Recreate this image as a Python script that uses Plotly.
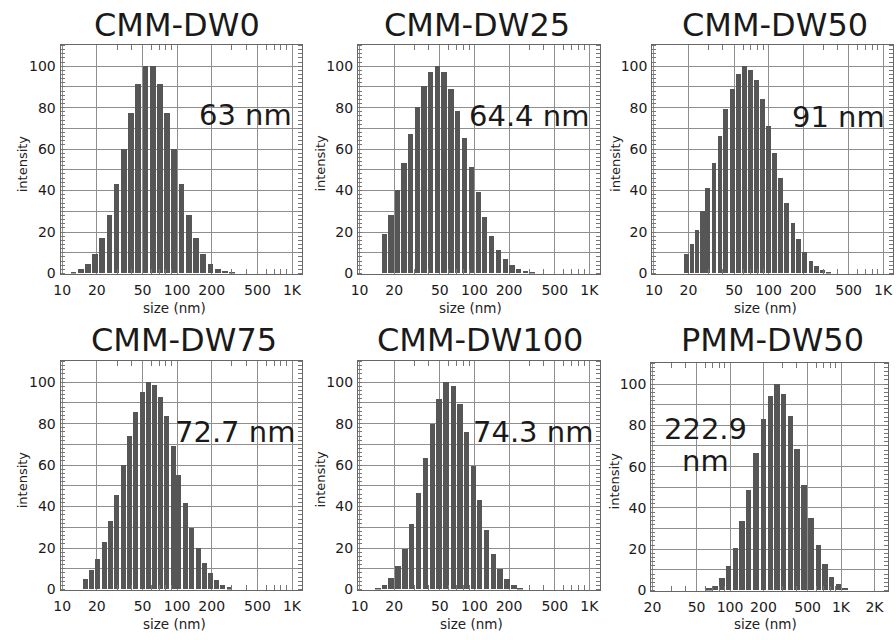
import numpy as np
import plotly.graph_objects as go

# ---------------- data ----------------
titles = ["CMM-DW0", "CMM-DW25", "CMM-DW50", "CMM-DW75", "CMM-DW100", "PMM-DW50"]
mean_labels = ["63 nm", "64.4 nm", "91 nm", "72.7 nm", "74.3 nm", "222.9"]
mean_unit_extra = "nm"   # second line of the PMM-DW50 label

dw0_size = [12.4, 14.4, 16.6, 19.1, 22.0, 25.5, 29.4, 34.0, 39.3, 45.4, 52.5, 60.7,
            70.1, 81.0, 93.6, 108.2, 125.1, 144.5, 167.1, 193.1, 223.2, 257.9, 298.1]
dw0_int = [0.5, 2, 4.5, 9, 17, 28, 43, 60, 77, 91, 100, 100,
           91, 77, 60, 43, 28, 17, 9, 4.5, 2, 1, 0.4]

dw25_size = [16.4, 18.7, 21.3, 24.3, 27.7, 31.6, 36.3, 41.4, 47.2, 54.2, 62.3, 71.5,
             82.1, 93.6, 107.5, 122.6, 140.8, 160.6, 185.6, 211.7, 241.5, 277.3, 318.4]
dw25_int = [19, 28, 40, 53, 67, 80, 90, 97, 100, 97, 89, 78,
            65, 51, 39, 27, 18, 11, 7, 4, 2, 1, 0.3]

dw50_size = [19.4, 21.6, 23.8, 26.5, 29.6, 33.6, 37.8, 42.5, 48.5, 54.6, 61.5, 69.6,
             78.4, 88.8, 100.7, 113.3, 127.6, 144.5, 163.8, 184.4, 207.6, 235.2, 264.8,
             298.1, 335.6]
dw50_int = [9, 14, 21, 30, 41, 53, 66, 79, 89, 96, 100, 98,
            93, 84, 71, 58, 46, 34, 24, 16.5, 10, 6, 3.5, 1.6, 0.6]

dw75_size = [15.8, 17.8, 20.1, 22.9, 26.0, 29.4, 33.6, 38.3, 43.4, 49.1, 55.7, 62.7,
             71.0, 80.5, 91.2, 102.7, 117.1, 132.7, 151.4, 171.6, 194.4, 218.8, 248.0, 281.0]
dw75_int = [5, 9, 14.5, 22.6, 32.8, 45.6, 59.7, 73.6, 85.4, 95, 100, 98.5,
            92.6, 83.5, 69, 55, 41.5, 29.7, 20, 12.7, 8, 4.4, 2.2, 0.8]

dw100_size = [14.4, 16.5, 18.8, 21.5, 24.8, 28.3, 32.5, 37.3, 42.8, 49.1, 56.4, 65.2,
              74.4, 85.4, 97.4, 110.4, 126.7, 145.5, 167.1, 190.5, 220.3, 249.5]
dw100_int = [0.3, 2, 5.5, 11, 19.3, 31.3, 46.4, 63.3, 79.4, 91.8, 100, 97.8,
             89.4, 75.6, 59.3, 43, 28.5, 17, 9.8, 4.7, 1.9, 0.5]

pmm50_size = [65.0, 74.1, 85.1, 97.7, 112.0, 128.6, 147.6, 171.8, 200.0, 231.1, 265.3,
              304.6, 351.9, 403.9, 466.7, 539.1, 628.0, 721.2, 827.9, 950.6, 1089.0]
pmm50_int = [0.8, 2, 5.7, 11.5, 20.5, 33.3, 48.3, 66.5, 83, 94, 100,
             95, 84.5, 68.4, 51, 34.8, 22, 12.6, 6.3, 2.8, 1]

x_ticks_a = [10, 20, 50, 100, 200, 500, 1000]
x_ticktext_a = ["10", "20", "50", "100", "200", "500", "1K"]
x_ticks_b = [20, 50, 100, 200, 500, 1000, 2000]
x_ticktext_b = ["20", "50", "100", "200", "500", "1K", "2K"]
x_minor = [30, 40, 60, 70, 80, 90, 300, 400, 600, 700, 800, 900]
y_ticks = [0, 10, 20, 30, 40, 50, 60, 70, 80, 90, 100, 110]
y_ticktext = ["0", "", "20", "", "40", "", "60", "", "80", "", "100", ""]

sizes = [dw0_size, dw25_size, dw50_size, dw75_size, dw100_size, pmm50_size]
ints = [dw0_int, dw25_int, dw50_int, dw75_int, dw100_int, pmm50_int]

# ---------------- layout geometry (pixels) ----------------
W, H = 896, 640
FONT = "DejaVu Sans"
frames = [  # left, right, top, bottom
    (53, 297, 46, 277),
    (353, 597, 46, 277),
    (650, 893, 46, 277),
    (53, 297, 366, 597),
    (353, 597, 366, 597),
    (649, 888, 368, 598),
]
xranges = [[0.985, 3.09], [0.985, 3.09], [0.985, 3.086],
           [0.985, 3.09], [0.985, 3.09], [1.29, 3.424]]
title_pos = [(171, 25), (473, 25), (774, 25), (178, 344), (476, 344), (771, 344)]
mean_pos = [(240, 116), (526, 117), (838, 118), (229, 437), (530, 437), (704, 434)]
extra_pos = (704, 467)
ylab_x = [15, 315, 613, 15, 315, 612]
xlab_pos = [(168, 312), (467, 312), (764, 312), (168, 632), (468, 632), (764, 632)]


def px(x):
    return x / W


def py(y):
    return 1 - y / H


fig = go.Figure()
layout = dict(
    width=W, height=H, margin=dict(l=0, r=0, t=0, b=0),
    paper_bgcolor="white", plot_bgcolor="white", showlegend=False,
    font=dict(family=FONT, color="#222"), bargap=0,
)
annotations = []
big_font = dict(family=FONT, size=29, color="#1a1a1a")

for i in range(6):
    n = i + 1
    xa = "x" if n == 1 else f"x{n}"
    ya = "y" if n == 1 else f"y{n}"
    lx = np.log10(np.array(sizes[i], dtype=float))
    bw = float(np.median(np.diff(lx))) * 0.80
    fig.add_trace(go.Bar(
        x=lx, y=ints[i], width=bw, xaxis=xa, yaxis=ya,
        marker=dict(color="#565656", line=dict(width=0)),
        hoverinfo="skip",
    ))
    l, r, t, b = frames[i]
    if i == 5:
        tv, tt = x_ticks_b, x_ticktext_b
    else:
        tv, tt = x_ticks_a, x_ticktext_a
    layout["xaxis" if n == 1 else f"xaxis{n}"] = dict(
        domain=[px(l), px(r)], anchor=ya, range=xranges[i],
        tickvals=list(np.log10(tv)), ticktext=tt, ticks="",
        showgrid=True, gridcolor="#8e8e8e", gridwidth=1, zeroline=False,
        showline=True, linecolor="#666", linewidth=1, mirror="ticks",
        tickfont=dict(family=FONT, size=14, color="#1a1a1a"),
        ticklabelstandoff=4,
        minor=dict(tickvals=list(np.log10(x_minor)), ticks="inside", ticklen=5,
                   tickcolor="#777", tickwidth=1, showgrid=False),
        fixedrange=True,
    )
    layout["yaxis" if n == 1 else f"yaxis{n}"] = dict(
        domain=[py(b), py(t)], anchor=xa, range=[0, 110],
        tickvals=y_ticks, ticktext=y_ticktext, ticks="",
        showgrid=True, gridcolor="#8e8e8e", gridwidth=1, zeroline=False,
        showline=True, linecolor="#666", linewidth=1, mirror="ticks",
        tickfont=dict(family=FONT, size=14, color="#1a1a1a"),
        ticklabelstandoff=1,
        minor=dict(dtick=2, ticks="inside", ticklen=4, tickcolor="#777",
                   tickwidth=1, showgrid=False),
        fixedrange=True,
    )
    tx, ty = title_pos[i]
    annotations.append(dict(text=titles[i], x=px(tx), y=py(ty), xref="paper", yref="paper",
                            xanchor="center", yanchor="middle", showarrow=False,
                            font=dict(family=FONT, size=32, color="#1a1a1a")))
    mx, my = mean_pos[i]
    annotations.append(dict(text=mean_labels[i], x=px(mx), y=py(my), xref="paper", yref="paper",
                            xanchor="center", yanchor="middle", showarrow=False,
                            font=big_font))
    annotations.append(dict(text="intensity", x=px(ylab_x[i]), y=py((t + b) / 2 + 4),
                            xref="paper", yref="paper", textangle=-90,
                            xanchor="center", yanchor="middle", showarrow=False,
                            font=dict(family=FONT, size=13, color="#222")))
    sx, sy = xlab_pos[i]
    annotations.append(dict(text="size (nm)", x=px(sx), y=py(sy), xref="paper", yref="paper",
                            xanchor="center", yanchor="middle", showarrow=False,
                            font=dict(family=FONT, size=13.5, color="#222")))

annotations.append(dict(text=mean_unit_extra, x=px(extra_pos[0]), y=py(extra_pos[1]),
                        xref="paper", yref="paper", xanchor="center", yanchor="middle",
                        showarrow=False, font=big_font))

layout["annotations"] = annotations
fig.update_layout(**layout)
fig.write_html(
    "out.html",
    config={"displayModeBar": False},
    post_script="document.body.style.margin='0';document.body.style.overflow='hidden';",
)
